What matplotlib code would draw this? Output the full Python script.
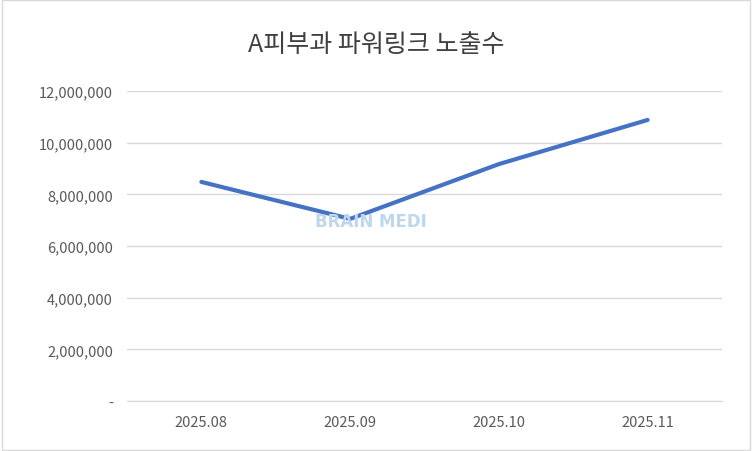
import matplotlib
matplotlib.use("Agg")
import matplotlib.pyplot as plt
from matplotlib.ticker import FuncFormatter

plt.rcParams["font.family"] = ["Noto Sans CJK KR", "DejaVu Sans"]

months = ["2025.08", "2025.09", "2025.10", "2025.11"]
impressions = [8480000, 7050000, 9170000, 10880000]
yticks = [0, 2000000, 4000000, 6000000, 8000000, 10000000, 12000000]

fig = plt.figure(figsize=(7.52, 4.52), dpi=100)
ax = fig.add_axes([127/752, 50/452, 595/752, 302/452])
ax.set_position([127/752, 1 - 402/452, 595/752, 310/452])

x = range(len(months))
ax.plot(x, impressions, color="#4472C4", lw=3, solid_capstyle="round")
ax.set_xlim(-0.5, len(months) - 0.5)
ax.set_ylim(0, 12000000)
ax.set_yticks(yticks)
ax.yaxis.set_major_formatter(FuncFormatter(lambda v, p: "-" if v == 0 else f"{int(v):,}"))
ax.set_xticks(list(x))
ax.set_xticklabels(months)
ax.grid(axis="y", color="#D9D9D9", lw=1)
ax.set_axisbelow(True)
for s in ["top", "right", "left"]:
    ax.spines[s].set_visible(False)
ax.spines["bottom"].set_color("#D9D9D9")
ax.tick_params(length=0, colors="#595959", labelsize=10.5)
ax.tick_params(axis="x", pad=10)
ax.tick_params(axis="y", pad=10)

fig.text(0.5, 1 - 45/452, "A피부과 파워링크 노출수", ha="center", va="center",
         fontsize=18, color="#404040")
ax.text(0.41, 0.58, "BRAIN MEDI", transform=ax.transAxes, ha="center", va="center",
        fontsize=12, fontweight="bold", color="#BDD7EE", family="DejaVu Sans")

fig.patches.append(plt.Rectangle((0.002, 0.002), 0.996, 0.996, transform=fig.transFigure,
                                 fill=False, ec="#D9D9D9", lw=1))
fig.savefig("out.png", dpi=100)
